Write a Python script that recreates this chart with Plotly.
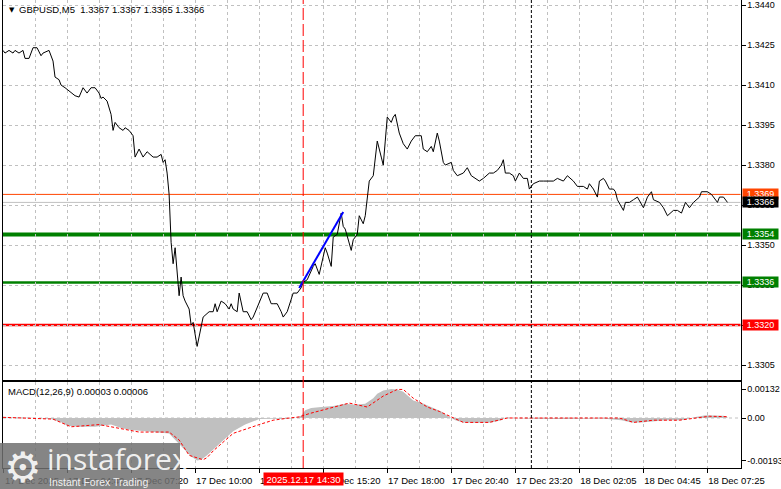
import plotly.graph_objects as go

# ---------------- data ----------------
bars = [0,1,3,5,6,8,10,11,13,15,17,19,20,23,25,26,28,29,31,34,36,38,40,42,44,46,48,49,50,52,
        54,55,56,58,60,61,63,65,66,68,70,72,75,77,79,80,81,82,83,84,85,86,88,89,90,91,93,94,95,97,
        98,99,100,103,105,106,107,109,111,113,114,115,117,118,120,122,124,125,128,130,132,134,135,137,139,140,142,144,145,147,
        149,150,152,155,156,158,160,161,162,164,165,167,169,170,171,172,174,175,177,178,180,181,182,183,185,186,187,189,190,191,
        192,194,195,196,198,200,202,204,206,209,210,212,214,215,217,218,220,221,224,225,227,230,232,234,236,238,240,243,245,247,
        249,250,251,253,255,256,258,260,262,263,265,268,270,272,275,277,280,282,285,287,290,292,293,295,297,298,300,301,303,305,
        306,307,310,311,313,315,317,320,322,324,325,328,330,332,335,337,339,341,343,345,348,349,350,352,354,355,357,358,360,362]
close = [1.3423,1.3422,1.3423,1.3422,1.3423,1.3422,1.3423,1.3420,1.3420,1.3424,1.3424,1.3421,1.3422,1.3423,1.3419,1.3413,1.3412,1.3410,1.3409,1.3407,1.3406,1.34055,1.3409,1.3407,1.3409,1.3409,1.3407,1.3405,1.34055,1.3404,
         1.3399,1.3393,1.3396,1.3394,1.3393,1.3394,1.3393,1.3391,1.3383,1.3386,1.3383,1.3385,1.3383,1.3383,1.3384,1.3381,1.3382,1.3377,1.3369,1.3351,1.3343,1.3349,1.3331,1.3338,1.3331,1.3329,1.3326,1.3320,1.3321,1.3312,
         1.3316,1.3319,1.3323,1.3325,1.3325,1.3328,1.3325,1.3329,1.3328,1.3326,1.3328,1.3326,1.3325,1.3332,1.3325,1.3325,1.3322,1.3323,1.3328,1.3332,1.3332,1.3328,1.3328,1.3328,1.3325,1.3323,1.3325,1.3330,1.3332,1.3332,
         1.3334,1.3336,1.3337,1.3342,1.3343,1.3339,1.3346,1.3349,1.3347,1.3342,1.3353,1.3354,1.3362,1.3357,1.3356,1.3353,1.3348,1.3352,1.3354,1.3361,1.3358,1.3361,1.3369,1.3374,1.3376,1.3383,1.3389,1.3383,1.3380,1.3389,
         1.3398,1.3396,1.3398,1.3399,1.3392,1.3388,1.3386,1.3389,1.3391,1.3391,1.3386,1.3385,1.3387,1.3385,1.3392,1.3389,1.3381,1.3380,1.3381,1.3378,1.3376,1.3377,1.3379,1.3376,1.3375,1.3374,1.3375,1.3377,1.3377,1.3378,
         1.3380,1.3382,1.3377,1.3377,1.3376,1.3374,1.3377,1.3375,1.3375,1.3371,1.3373,1.3374,1.3374,1.3374,1.3374,1.3375,1.3374,1.3376,1.3374,1.3372,1.3372,1.3371,1.3373,1.3371,1.3368,1.3374,1.3375,1.3374,1.3371,1.3371,
         1.3370,1.3367,1.3363,1.3366,1.3366,1.3367,1.3368,1.3364,1.3368,1.3370,1.3367,1.3366,1.3364,1.3361,1.3363,1.3363,1.3362,1.3366,1.3364,1.3366,1.3368,1.3370,1.3370,1.3370,1.3369,1.3368,1.3366,1.3368,1.3368,1.3366]

macd_bars = [0,14,24,26,30,32,38,46,49,54,59,64,71,79,83,85,88,91,94,97,99,102,105,109,115,121,128,134,141,146,
             149,151,154,159,165,171,176,181,185,187,190,194,197,200,205,209,214,219,222,226,230,236,244,249,251,256,264,279,299,309,
             314,319,324,331,339,346,351,356,360,362]
macd_vals = [0.00003,0.00001,-0.00005,-0.0001,-0.00023,-0.00035,-0.0004,-0.0004,-0.00035,-0.0003,-0.00045,-0.00055,-0.0006,-0.00065,-0.0007,-0.0009,-0.0012,-0.0015,-0.00175,-0.00193,-0.0019,-0.0017,-0.00145,-0.0011,-0.0006,-0.0003,-0.00005,-0.00003,-0.00005,0.0,
             0.0001,0.00035,0.00045,0.0005,0.00055,0.00065,0.0006,0.00065,0.0009,0.0011,0.00125,0.00132,0.0013,0.0012,0.0008,0.0007,0.0005,0.0003,0.0001,-0.0001,-0.0002,-0.00022,-0.0002,-0.0001,0.00002,0.0,-0.00003,-0.00005,-0.00002,-0.0001,
             -0.0002,-0.0002,-0.00015,-0.0001,-0.0001,0.00005,0.00012,0.00012,0.0001,0.00003]

signal_bars = [0,25,34,48,54,68,78,83,88,93,100,102,105,115,128,135,143,148,153,165,173,182,190,197,200,205,212,218,225,230,
               243,252,260,308,315,325,338,348,353,362]
signal_vals = [0.00003,-0.00005,-0.0004,-0.0003,-0.0004,-0.00064,-0.00064,-0.00064,-0.001,-0.0017,-0.0019,-0.0018,-0.0015,-0.0007,-0.0003,-0.0001,0.0,0.00005,0.0002,0.0005,0.00068,0.0005,0.001,0.0013,0.0013,0.0009,0.0005,0.0003,0.0,-0.0002,
               -0.0002,0.0,0.0,0.0,-0.0002,-0.0001,-0.0001,0.0,0.00008,0.00006]

trend_bars = [148, 170]
trend_prices = [1.33339, 1.33624]

price_ticks = [1.3305, 1.3320, 1.3335, 1.3350, 1.3365, 1.3380, 1.3395, 1.3410, 1.3425, 1.3440]
macd_ticks = [-0.00193, 0.0, 0.00132]
macd_tick_text = ["-0.00193", "0.00", "0.00132"]

time_tick_bars = [0, 32, 64, 96, 128, 160, 192, 224, 256, 288, 320, 352]
time_tick_text = ["17 Dec 2025", "17 Dec 04:40", "17 Dec 07:20", "17 Dec 10:00", "17 Dec 12:40", "17 Dec 15:20",
                  "17 Dec 18:00", "17 Dec 20:40", "17 Dec 23:20", "18 Dec 02:05", "18 Dec 04:45", "18 Dec 07:25"]

level_prices = [1.3369, 1.3366, 1.3354, 1.3336, 1.3320]
level_colors = ["#ff4500", "#c0c0c0", "#008000", "#008000", "#ff0000"]
level_widths = [1, 1, 4, 2.5, 2.5]
level_label_bg = ["#ff4500", "#000000", "#008000", "#008000", "#ff0000"]

event_bar = 150
event_text = "2025.12.17 14:30"
day_sep_bar = 264

title_text = "GBPUSD,M5  1.3367 1.3367 1.3365 1.3366"
macd_text = "MACD(12,26,9) 0.00003 0.00006"

# ---------------- figure ----------------
W, H = 781, 489
FONT = "Liberation Sans"
FS = 9.5
GRID = "#c0c0c0"
xdom = [3 / W, 740.5 / W]
main_dom = [1 - 380 / H, 1.0]
macd_dom = [1 - 468 / H, 1 - 382 / H]

fig = go.Figure()
fig.add_trace(go.Scatter(x=macd_bars, y=macd_vals, mode="lines", fill="tozeroy",
                         fillcolor="#c0c0c0", line=dict(width=0, color="#c0c0c0"),
                         xaxis="x2", yaxis="y2", hoverinfo="skip"))
fig.add_trace(go.Scatter(x=signal_bars, y=signal_vals, mode="lines",
                         line=dict(color="#ff0000", width=1, dash="3px,2px"),
                         xaxis="x2", yaxis="y2"))
fig.add_trace(go.Scatter(x=bars, y=close, mode="lines", line=dict(color="#000000", width=1),
                         xaxis="x", yaxis="y"))
fig.add_trace(go.Scatter(x=trend_bars, y=trend_prices, mode="lines",
                         line=dict(color="#0000ff", width=2), xaxis="x", yaxis="y"))

shapes = []
for p, c, w in zip(level_prices, level_colors, level_widths):
    shapes.append(dict(type="line", xref="x domain", yref="y", x0=0, x1=1, y0=p, y1=p,
                       line=dict(color=c, width=w), layer="below"))
shapes.append(dict(type="line", xref="x2 domain", yref="y2", x0=0, x1=1, y0=0, y1=0,
                   line=dict(color=GRID, width=1, dash="3px,3px"), layer="below"))
shapes.append(dict(type="line", xref="x", yref="paper", x0=event_bar, x1=event_bar,
                   y0=macd_dom[0], y1=1, line=dict(color="#ff0000", width=1, dash="12px,4px")))
shapes.append(dict(type="line", xref="x", yref="paper", x0=day_sep_bar, x1=day_sep_bar,
                   y0=macd_dom[0], y1=1, line=dict(color="#000000", width=1, dash="3px,2px")))
shapes.append(dict(type="rect", xref="paper", yref="paper", x0=0, x1=180 / W, y0=0, y1=1 - 443 / H,
                   fillcolor="rgba(112,112,112,0.85)", line=dict(width=0), layer="above"))

annotations = []
for p, bg in zip(level_prices, level_label_bg):
    annotations.append(dict(xref="paper", yref="y", x=742 / W, y=p, xanchor="left", yanchor="middle",
                            text=f"{p:.4f}", showarrow=False, bgcolor=bg, width=35, height=10,
                            borderpad=0, align="center", font=dict(family=FONT, size=9, color="white")))
annotations.append(dict(xref="x2", yref="paper", x=event_bar, y=(H - 479) / H, xanchor="center",
                        yanchor="middle", text=event_text, showarrow=False, bgcolor="#ff0000",
                        width=79, height=12, borderpad=0, align="center",
                        font=dict(family=FONT, size=FS, color="white")))
annotations.append(dict(xref="paper", yref="paper", x=7 / W, y=1 - 10 / H, xanchor="left", yanchor="middle",
                        text="▼", showarrow=False, font=dict(family="DejaVu Sans", size=7, color="black")))
annotations.append(dict(xref="paper", yref="paper", x=17 / W, y=1 - 10 / H, xanchor="left", yanchor="middle",
                        text=title_text, showarrow=False, font=dict(family=FONT, size=FS, color="black")))
annotations.append(dict(xref="paper", yref="paper", x=6 / W, y=1 - 391 / H, xanchor="left", yanchor="middle",
                        text=macd_text, showarrow=False, font=dict(family=FONT, size=FS, color="black")))
annotations.append(dict(xref="paper", yref="paper", x=2 / W, y=1 - 467 / H, xanchor="left", yanchor="middle",
                        text="⚙", showarrow=False,
                        font=dict(family="DejaVu Sans", size=42, color="rgba(255,255,255,0.9)")))
annotations.append(dict(xref="paper", yref="paper", x=45 / W, y=1 - 458 / H, xanchor="left", yanchor="middle",
                        text="instaforex", showarrow=False,
                        font=dict(family="Open Sans", size=30, color="rgba(255,255,255,0.9)")))
annotations.append(dict(xref="paper", yref="paper", x=47 / W, y=1 - 482 / H, xanchor="left", yanchor="middle",
                        text="Instant Forex Trading", showarrow=False,
                        font=dict(family=FONT, size=10.5, color="rgba(255,255,255,0.9)")))

fig.update_layout(
    width=W, height=H, margin=dict(l=0, r=0, t=0, b=0, autoexpand=False),
    paper_bgcolor="white", plot_bgcolor="white", showlegend=False,
    font=dict(family=FONT, size=FS, color="black"),
    xaxis=dict(domain=xdom, range=[0, 368.5], anchor="y", showticklabels=False, ticks="",
               tickmode="linear", tick0=0, dtick=16, showgrid=True, gridcolor=GRID,
               griddash="3px,3px", gridwidth=1, zeroline=False, showline=True,
               linecolor="black", linewidth=1, automargin=False),
    yaxis=dict(domain=main_dom, range=[1.32994, 1.34419], anchor="x", side="right",
               tickvals=price_ticks, tickformat=".4f", ticks="outside", ticklen=4,
               tickfont=dict(size=9),
               tickcolor="black", showgrid=True, gridcolor=GRID, griddash="3px,3px",
               zeroline=False, showline=True, mirror=True, linecolor="black", linewidth=1,
               automargin=False),
    xaxis2=dict(domain=xdom, range=[0, 368.5], anchor="y2", matches="x",
                tickmode="array", tickvals=time_tick_bars, ticktext=time_tick_text,
                ticks="outside", ticklen=4, tickcolor="black", ticklabelshift=29,
                showgrid=True, gridcolor=GRID, griddash="3px,3px",
                minor=dict(tickmode="linear", tick0=0, dtick=16, showgrid=True, gridcolor=GRID,
                           griddash="3px,3px", ticks=""),
                zeroline=False, showline=True, mirror=True, linecolor="black", linewidth=1,
                automargin=False),
    yaxis2=dict(domain=macd_dom, range=[-0.002276, 0.001639], anchor="x2", side="right",
                tickvals=macd_ticks, ticktext=macd_tick_text, ticks="outside", ticklen=4,
                tickfont=dict(size=9),
                tickcolor="black", showgrid=False, zeroline=False, showline=True, mirror=True,
                linecolor="black", linewidth=1, automargin=False),
    shapes=shapes, annotations=annotations,
)

fig.write_html("out.html", config={"displayModeBar": False},
               post_script="document.body.style.margin='0';document.body.style.overflow='hidden';")
